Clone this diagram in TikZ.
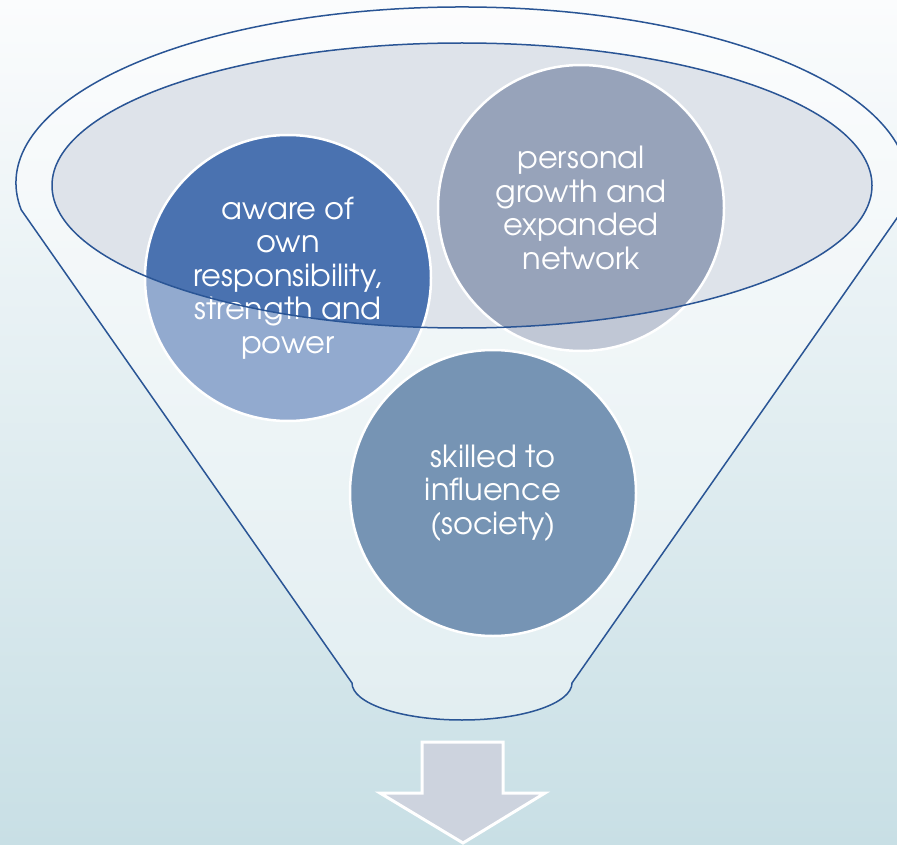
\documentclass[tikz,border=0pt]{standalone}
\usepackage{fontspec}
\setmainfont{TeX Gyre Adventor}
\definecolor{bgtop}{HTML}{FBFCFD}
\definecolor{bgbot}{HTML}{C8DFE5}
\definecolor{funline}{HTML}{2A5595}
\definecolor{ellfill}{HTML}{DEE3EA}
\definecolor{cA}{HTML}{4A72B0}
\definecolor{cB}{HTML}{97A3BA}
\definecolor{cC}{HTML}{1C4E82}
\definecolor{arrfill}{HTML}{CDD3DE}
\tikzset{
  bubble/.style={circle, draw=white, line width=2.5pt, minimum size=286pt, inner sep=0pt,
    text=white, align=center, font=\fontsize{30.5}{33.5}\selectfont},
  funnelline/.style={draw=funline, line width=1.5pt},
}
\begin{document}
\begin{tikzpicture}[x=1pt,y=-1pt]
\useasboundingbox (0,0) rectangle (897,845);
\shade[top color=bgtop, bottom color=bgbot] (0,0) rectangle (897,845);
% inner ellipse fill
\fill[ellfill] (462,185.5) ellipse [x radius=410, y radius=142.5];
% circles
\node[bubble, fill=cA] (aware) at (288,278) {aware of\\own\\responsibility,\\strength and\\power};
\node[bubble, fill=cB] (growth) at (581,208) {personal\\growth and\\expanded\\network};
\node[bubble, fill=cC] (skilled) at (493,493) {skilled to\\influence\\(society)};
% funnel body tint
\fill[white, opacity=0.4, even odd rule]
  (21.25,209.9) arc[start angle=171.2, end angle=368.8, x radius=446, y radius=176]
  -- (572,683) arc[start angle=0, end angle=180, x radius=110, y radius=37] -- cycle
  (462,185.5) ellipse [x radius=410, y radius=142.5];
% outlines
\draw[funnelline, line join=round]
  (21.25,209.9) arc[start angle=171.2, end angle=368.8, x radius=446, y radius=176]
  -- (572,683) arc[start angle=0, end angle=180, x radius=110, y radius=37] -- cycle;
\draw[funnelline] (462,185.5) ellipse [x radius=410, y radius=142.5];
% arrow
\draw[white, line width=3pt, fill=arrfill, line join=miter]
  (422,742) -- (503,742) -- (503,793) -- (545,793) -- (463,843) -- (380,793) -- (422,793) -- cycle;
\end{tikzpicture}
\end{document}
